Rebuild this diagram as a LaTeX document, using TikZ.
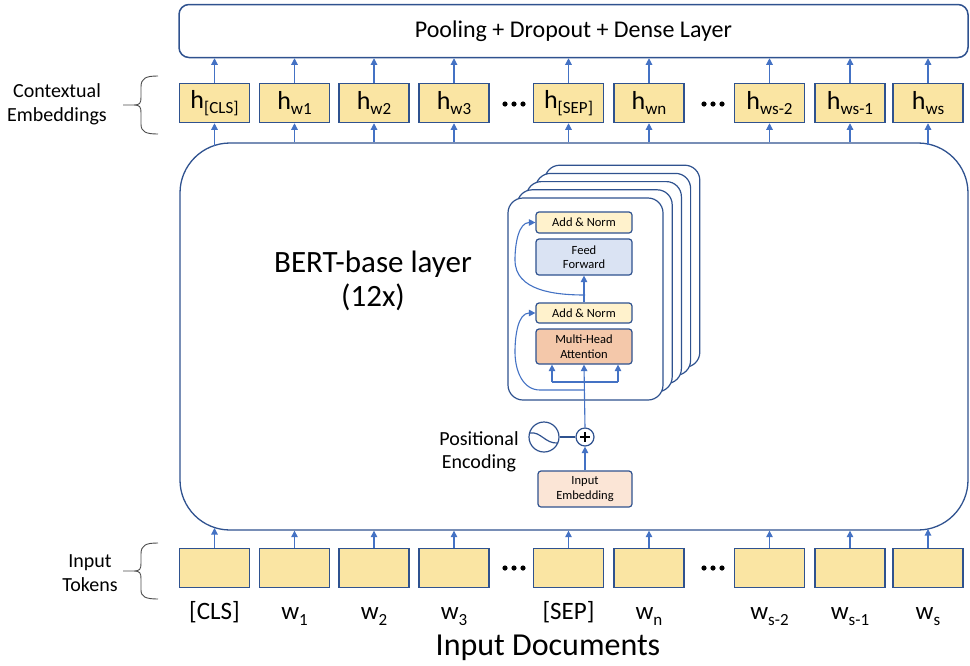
\documentclass[tikz,border=0pt]{standalone}
\usepackage{fontspec}
\setmainfont{Carlito}
\usetikzlibrary{arrows.meta,calc}
\definecolor{boxline}{RGB}{47,82,143}
\definecolor{arrowc}{RGB}{68,114,196}
\definecolor{tokfill}{RGB}{250,229,163}
\definecolor{anfill}{RGB}{255,242,204}
\definecolor{fffill}{RGB}{218,227,243}
\definecolor{mhafill}{RGB}{244,200,170}
\definecolor{iefill}{RGB}{251,229,214}
\newcommand\hsub[1]{h\raisebox{-0.22em}{\fontsize{17}{17}\selectfont #1}}
\newcommand\wsub[1]{w\raisebox{-0.25em}{\fontsize{17}{17}\selectfont #1}}
\begin{document}
\begin{tikzpicture}[x=1pt,y=-1pt,
  tok/.style={draw=boxline,line width=1.5pt,fill=tokfill,minimum width=70pt,minimum height=39pt,inner sep=0pt,font=\fontsize{26}{26}\selectfont},
  arr/.style={draw=arrowc,line width=1.1pt,-{Triangle[width=6.5pt,length=6.5pt]}},
  inner/.style={draw=boxline,line width=1.2pt,rounded corners=3pt,minimum width=96pt,inner sep=0pt,font=\fontsize{12.5}{14.5}\selectfont,align=center},
  lab/.style={font=\fontsize{25}{25}\selectfont,anchor=base},
  brc/.style={draw=black!70,line width=0.9pt},
  side/.style={font=\fontsize{20}{24}\selectfont,align=center},
  dot/.style={fill=black,draw=none}
]
\useasboundingbox (0,0) rectangle (970,665);
% pooling box
\node[draw=boxline,line width=1.5pt,rounded corners=10pt,minimum width=789pt,minimum height=53pt,inner sep=0pt,font=\fontsize{24}{24}\selectfont] (pool) at (573.5,31) {Pooling + Dropout + Dense Layer};
% big box
\node[draw=boxline,line width=1.3pt,rounded corners=50pt,minimum width=788pt,minimum height=387pt,inner sep=0pt] (big) at (574,336.5) {};
% h boxes
\foreach \n/\x/\t in {1/214.5/{\hsub{[CLS]}},2/294.5/{\hsub{w1}},3/374/{\hsub{w2}},4/454/{\hsub{w3}},5/568.5/{\hsub{[SEP]}},6/649/{\hsub{wn}},7/769.5/{\hsub{ws-2}},8/850/{\hsub{ws-1}},9/928/{\hsub{ws}}}{
  \node[tok] (h\n) at (\x,103) {\t};
  \node[tok] (t\n) at (\x,568) {};
  \draw[arr] (h\n.north) -- (h\n.north |- pool.south);
}
% dots
\foreach \x in {514,713}{
  \foreach \dx in {-9,0,9}{
    \fill[dot] (\x+\dx,104) circle (2.6pt);
    \fill[dot] (\x+\dx,568) circle (2.6pt);
  }
}
% arrows big box -> h boxes
\coordinate (c1) at (214.5,146);
\coordinate (c9) at (928,144.5);
\coordinate (b1) at (214.5,528);
\coordinate (b9) at (928,529);
\draw[arr] (c1) -- (h1.south);
\draw[arr] (c9) -- (h9.south);
\draw[arr] (t1.north) -- (b1);
\draw[arr] (t9.north) -- (b9);
\foreach \n in {2,...,8}{
  \draw[arr] (h\n.south |- big.north) -- (h\n.south);
  \draw[arr] (t\n.north) -- (t\n.north |- big.south);
}
% bottom labels
\node[lab] (l1) at (214.5,619) {[CLS]};
\node[lab] (l2) at (294.5,619) {\wsub{1}};
\node[lab] (l3) at (374,619) {\wsub{2}};
\node[lab] (l4) at (454,619) {\wsub{3}};
\node[lab] (l5) at (568.5,619) {[SEP]};
\node[lab] (l6) at (649,619) {\wsub{n}};
\node[lab] (l7) at (769.5,619) {\wsub{s-2}};
\node[lab] (l8) at (850,619) {\wsub{s-1}};
\node[lab] (l9) at (928,619) {\wsub{s}};
\node[font=\fontsize{32}{32}\selectfont] (docs) at (548,648) {Input Documents};
% side labels and braces
\node[side] (ce) at (57,104) {Contextual\\Embeddings};
\node[side] (it) at (90,573) {Input\\Tokens};
\draw[brc] (158,76) .. controls (146,76) and (141,78) .. (141,87) -- (141,97)
  .. controls (141,103) and (140,105) .. (134,105) -- (123,105) -- (134,105)
  .. controls (140,105) and (141,107) .. (141,113) -- (141,124)
  .. controls (141,132) and (146,134) .. (158,134);
\draw[brc] (158,543) .. controls (146,543) and (141,545) .. (141,554) -- (141,563)
  .. controls (141,569) and (140,571) .. (134,571) -- (123,571) -- (134,571)
  .. controls (140,571) and (141,573) .. (141,579) -- (141,590)
  .. controls (141,597) and (146,599) .. (158,599);
% BERT text
\node[font=\fontsize{31}{34}\selectfont,align=center] (bert) at (373,281) {BERT-base layer\\(12x)};
% stacked transformer boxes
\foreach \k in {4,3,2,1}{
  \draw[draw=boxline,line width=1.2pt,fill=white,rounded corners=15pt] ($(508,198)+(\k*9.2,-\k*8.2)$) rectangle ($(663,400)+(\k*9.2,-\k*8.2)$);
}
\node[draw=boxline,line width=1.2pt,fill=white,rounded corners=15pt,minimum width=155pt,minimum height=202pt,inner sep=0pt] (front) at (585.5,299) {};
\node[inner,fill=anfill,minimum height=21pt] (an2) at (584,222.5) {Add \& Norm};
\node[inner,fill=fffill,minimum height=36pt] (ff) at (584,257) {Feed\\Forward};
\node[inner,fill=anfill,minimum height=20pt] (an1) at (584,313) {Add \& Norm};
\node[inner,fill=mhafill,minimum height=35pt] (mha) at (584,346.5) {Multi-Head\\Attention};
\node[inner,fill=iefill,minimum width=94pt,minimum height=36pt] (ie) at (585,489) {Input\\Embedding};
% plus and positional encoding
\node[draw=boxline,line width=1.2pt,circle,minimum size=18pt,inner sep=0pt] (plus) at (585,437) {};
\draw[line width=1.4pt] ($(plus.center)+(-5,0)$) -- ($(plus.center)+(5,0)$) ($(plus.center)+(0,-5)$) -- ($(plus.center)+(0,5)$);
\node[draw=boxline,line width=1.2pt,circle,minimum size=30pt,inner sep=0pt] (pe) at (544,437) {};
\draw[boxline,line width=1.2pt] (529.5,433) .. controls (541,431) and (545,444) .. (558,443);
\draw[boxline,line width=1.2pt] (pe.east) -- (plus.west);
\node[font=\fontsize{20}{23}\selectfont,align=center] (petext) at (479,452) {Positional\\Encoding};
% flows
\draw[arr] (ie.north) -- (plus.south);
\draw[arr] (plus.north) -- (mha.south);
\draw[draw=arrowc,line width=1.1pt] (552,382) -- (618,382);
\draw[arr] (552,382) -- (mha.south -| 552,0);
\draw[arr] (618,382) -- (mha.south -| 618,0);
\draw[arr] (an1.north) -- (ff.south);
\draw[arr] (585,390) -- (540,390) to[out=180,in=270] (515,352) to[out=90,in=180] (an1.west);
\draw[arr] (585,295) to[out=180,in=270] (515,260) to[out=90,in=180] (an2.west);
\end{tikzpicture}
\end{document}
